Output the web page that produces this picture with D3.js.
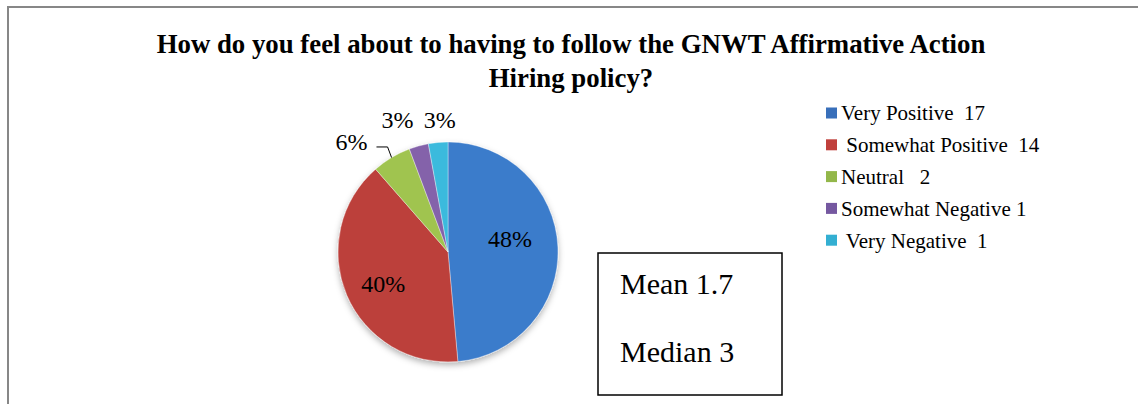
<!DOCTYPE html>
<html>
<head>
<meta charset="utf-8">
<script src="https://cdn.jsdelivr.net/npm/d3@7"></script>
<style>
  body { margin: 0; background: #fff; }
  svg { display: block; }
  text { font-family: 'Liberation Serif', 'Times New Roman', serif; fill: #000; }
</style>
</head>
<body>
<div id="chart"></div>
<script>
// data
var categories = ['Very Positive', 'Somewhat Positive', 'Neutral', 'Somewhat Negative', 'Very Negative']
var counts = [17, 14, 2, 1, 1]
var legendLabels = ['Very Positive  17', ' Somewhat Positive  14', 'Neutral   2', 'Somewhat Negative 1', ' Very Negative  1']
var percentLabels = ['48%', '40%', '6%', '3%', '3%']
var statLines = ['Mean 1.7', 'Median 3']
var titleLines = ['How do you feel about to having to follow the GNWT Affirmative Action', 'Hiring policy?']

// slice colours, top and bottom of gradient
var colorsTop = ['#3b7bcb', '#bc3f3a', '#a0c450', '#8462aa', '#3bbadd']
var colorsBottom = ['#2b5690', '#842523', '#7d9c3a', '#634889', '#2a9cbf']
var legendColors = ['#386fba', '#c0403c', '#93b74a', '#7558a0', '#33afd2']

var width = 1138
var height = 404

var svg = d3
  .select('#chart')
  .append('svg')
  .attr('width', width)
  .attr('height', height)

// outer frame (only top and left edges visible)
svg
  .append('rect')
  .attr('x', 8)
  .attr('y', 7)
  .attr('width', width + 20)
  .attr('height', height + 20)
  .attr('fill', 'none')
  .attr('stroke', '#878787')
  .attr('stroke-width', 2)

// title
svg
  .selectAll('.title')
  .data(titleLines)
  .enter()
  .append('text')
  .attr('class', 'title')
  .attr('x', 571)
  .attr('y', function(d, i) {
    return 53 + i * 34
  })
  .attr('text-anchor', 'middle')
  .attr('font-size', 26.8)
  .attr('font-weight', 'bold')
  .text(function(d) {
    return d
  })

// pie
var cx = 448
var cy = 252
var radius = 110

var defs = svg.append('defs')

var shadow = defs
  .append('filter')
  .attr('id', 'shadow')
  .attr('x', '-20%')
  .attr('y', '-20%')
  .attr('width', '140%')
  .attr('height', '140%')
shadow
  .append('feDropShadow')
  .attr('dx', 0)
  .attr('dy', 3)
  .attr('stdDeviation', 3)
  .attr('flood-color', '#000')
  .attr('flood-opacity', 0.3)

categories.forEach(function(c, i) {
  var grad = defs
    .append('linearGradient')
    .attr('id', 'grad' + i)
    .attr('gradientUnits', 'userSpaceOnUse')
    .attr('x1', 0)
    .attr('y1', cy - radius)
    .attr('x2', 0)
    .attr('y2', cy + radius)
  grad.append('stop').attr('offset', '0%').attr('stop-color', colorsTop[i])
  grad.append('stop').attr('offset', '100%').attr('stop-color', colorsBottom[i])
})

var pie = d3
  .pie()
  .sort(null)
  .value(function(d) {
    return d
  })

var arcs = pie(counts)

var arc = d3
  .arc()
  .innerRadius(0)
  .outerRadius(radius)

var insideArc = d3
  .arc()
  .innerRadius(radius * 0.6)
  .outerRadius(radius * 0.6)

var outsideArc = d3
  .arc()
  .innerRadius(radius * 1.25)
  .outerRadius(radius * 1.25)

var pieG = svg
  .append('g')
  .attr('transform', 'translate(' + cx + ',' + cy + ')')

pieG
  .append('g')
  .attr('filter', 'url(#shadow)')
  .selectAll('path')
  .data(arcs)
  .enter()
  .append('path')
  .attr('d', arc)
  .attr('fill', function(d, i) {
    return 'url(#grad' + i + ')'
  })
  .attr('stroke', 'rgba(255,255,255,0.45)')
  .attr('stroke-width', 0.8)

// big slices get their labels inside, small ones outside
var labelShift = [
  [-4, -10],
  [-4, 6],
  [-26, 8],
  [-14, 0],
  [4, 5]
]

pieG
  .selectAll('.pct')
  .data(arcs)
  .enter()
  .append('text')
  .attr('class', 'pct')
  .attr('x', function(d, i) {
    var p = i < 2 ? insideArc.centroid(d) : outsideArc.centroid(d)
    return p[0] + labelShift[i][0]
  })
  .attr('y', function(d, i) {
    var p = i < 2 ? insideArc.centroid(d) : outsideArc.centroid(d)
    return p[1] + labelShift[i][1]
  })
  .attr('dy', '0.35em')
  .attr('text-anchor', 'middle')
  .attr('font-size', 24)
  .text(function(d, i) {
    return percentLabels[i]
  })

// leader line for the 6% label
var green = arcs[2]
var mid = (green.startAngle + green.endAngle) / 2
var ex = Math.sin(mid) * radius
var ey = -Math.cos(mid) * radius
var lp = outsideArc.centroid(green)
var lx = lp[0] + labelShift[2][0]
var ly = lp[1] + labelShift[2][1]
pieG
  .append('path')
  .attr('d', d3.line()([[lx + 25, ly + 5], [ex - 4, ly + 5], [ex, ey]]))
  .attr('fill', 'none')
  .attr('stroke', '#000')
  .attr('stroke-width', 1)

// legend
var legend = svg
  .append('g')
  .attr('transform', 'translate(826,113)')

var rows = legend
  .selectAll('.row')
  .data(legendLabels)
  .enter()
  .append('g')
  .attr('class', 'row')
  .attr('transform', function(d, i) {
    return 'translate(0,' + i * 31.8 + ')'
  })

rows
  .append('rect')
  .attr('x', 0)
  .attr('y', -5.5)
  .attr('width', 11)
  .attr('height', 11)
  .attr('fill', function(d, i) {
    return legendColors[i]
  })

rows
  .append('text')
  .attr('x', 15)
  .attr('dy', '0.35em')
  .attr('font-size', 21)
  .style('white-space', 'pre')
  .text(function(d) {
    return d
  })

// stats box
svg
  .append('rect')
  .attr('x', 598)
  .attr('y', 253)
  .attr('width', 184)
  .attr('height', 142)
  .attr('fill', '#fff')
  .attr('stroke', '#000')
  .attr('stroke-width', 1.5)

svg
  .selectAll('.stat')
  .data(statLines)
  .enter()
  .append('text')
  .attr('class', 'stat')
  .attr('x', 620)
  .attr('y', function(d, i) {
    return 294 + i * 68
  })
  .attr('font-size', 30)
  .text(function(d) {
    return d
  })
</script>
</body>
</html>
